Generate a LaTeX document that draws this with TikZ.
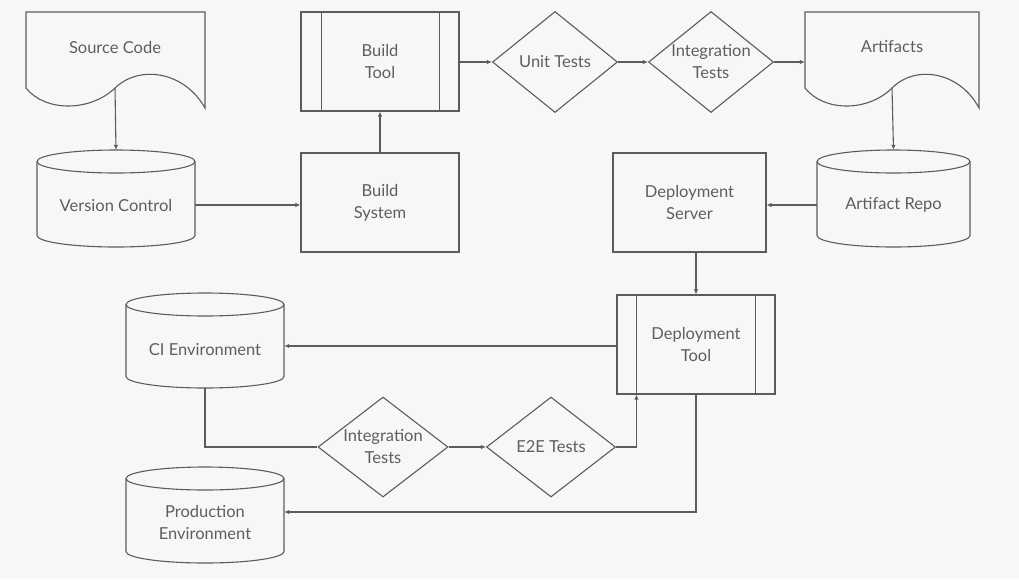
\documentclass[tikz,border=0pt]{standalone}
\usepackage{fontspec}
\setmainfont{Lato}
\usetikzlibrary{shapes.geometric,arrows.meta,calc}
\definecolor{ink}{HTML}{5C5C5C}
\definecolor{txt}{HTML}{5E5E5E}
\definecolor{paper}{HTML}{F7F7F9}
\begin{document}
\begin{tikzpicture}[x=1pt,y=-1pt,
  line/.style={draw=ink, line width=1.1pt},
  arr/.style={line, -{Latex[length=5pt,width=4.5pt]}},
  lbl/.style={font=\fontsize{16.5}{22}\selectfont, text=txt, align=center, inner sep=0},
  area/.style={rectangle, inner sep=0, minimum width=#1},
  box/.style={line, rectangle, inner sep=0, minimum height=99, font=\fontsize{16.5}{22}\selectfont, text=txt, align=center},
  dia/.style={line, diamond, inner sep=0, aspect=1.25, font=\fontsize{16.5}{22}\selectfont, text=txt, align=center}]
\useasboundingbox (0,0) rectangle (1019,579);
\fill[paper] (0,0) rectangle (1019,579);

% ---------- documents ----------
\draw[line] (26,88) -- (26,12) -- (205,12) -- (205,108)
  .. controls (185,72) and (140,64) .. (115,88)
  .. controls (90,112) and (45,112) .. cycle;
\node[area=179, minimum height=96] (srcd) at (115.5,60) {};
\node[lbl] (src) at (115,47) {Source Code};
\coordinate (srcw) at (115,88);

\draw[line] (805,88) -- (805,12) -- (979,12) -- (979,108)
  .. controls (960,72) and (916,64) .. (892,88)
  .. controls (868,112) and (824,112) .. cycle;
\node[area=174, minimum height=96] (artd) at (892,60) {};
\node[lbl] (art) at (892,47) {Artifacts};
\coordinate (artw) at (892,88);

% ---------- cylinders ----------
% Version Control
\draw[line] (37,161.5) -- (37,235.5) arc[start angle=180, end angle=0, x radius=79, y radius=11.5] -- (195,161.5);
\draw[line] (116,161.5) ellipse[x radius=79, y radius=11.5];
\node[area=158, minimum height=97] (vc) at (116,198.5) {};
\node[lbl] (vct) at (116,205) {Version Control};

% Artifact Repo
\draw[line] (817,161.5) -- (817,235.5) arc[start angle=180, end angle=0, x radius=76.5, y radius=11.5] -- (970,161.5);
\draw[line] (893.5,161.5) ellipse[x radius=76.5, y radius=11.5];
\node[area=153, minimum height=97] (ar) at (893.5,198.5) {};
\node[lbl] (art2) at (893.5,205) {Artifact Repo};

% CI Environment
\draw[line] (126,304.5) -- (126,376.5) arc[start angle=180, end angle=0, x radius=79, y radius=11.5] -- (284,304.5);
\draw[line] (205,304.5) ellipse[x radius=79, y radius=11.5];
\node[area=158, minimum height=95] (ci) at (205,340.5) {};
\node[lbl] (cit) at (205,350) {CI Environment};

% Production Environment
\draw[line] (126,478.5) -- (126,551.5) arc[start angle=180, end angle=0, x radius=79, y radius=11.5] -- (284,478.5);
\draw[line] (205,478.5) ellipse[x radius=79, y radius=11.5];
\node[area=158, minimum height=96] (pe) at (205,515) {};
\node[lbl] (pet) at (205,522) {Production\\Environment};

% ---------- boxes ----------
\node[box, minimum width=158] (bt) at (380,61.5) {Build\\Tool};
\draw[line] ([xshift=21pt]bt.north west) -- ([xshift=21pt]bt.south west);
\draw[line] ([xshift=-20pt]bt.north east) -- ([xshift=-20pt]bt.south east);

\node[box, minimum width=158] (bs) at (380,202.5) {Build\\System};
\node[box, minimum width=153] (ds) at (689.5,202.5) {Deployment\\Server};

\node[box, minimum width=158] (dt) at (696,344.5) {Deployment\\Tool};
\draw[line] ([xshift=20pt]dt.north west) -- ([xshift=20pt]dt.south west);
\draw[line] ([xshift=-20pt]dt.north east) -- ([xshift=-20pt]dt.south east);
\coordinate (dtin) at ([xshift=20pt]dt.south west);

% ---------- decisions ----------
\node[dia, minimum width=125, minimum height=101] (ut) at (555,62) {Unit Tests};
\node[dia, minimum width=125, minimum height=101] (it1) at (711,62) {Integration\\Tests};
\node[dia, minimum width=130, minimum height=100] (it2) at (383,447) {Integration\\Tests};
\node[dia, minimum width=129, minimum height=100] (e2e) at (551,447) {E2E Tests};

% ---------- connectors ----------
\draw[arr] (srcw) -- (vc.north);
\draw[arr] (vct -| vc.east) -- (vct -| bs.west);
\draw[arr] (bs.north) -- (bt.south);
\draw[arr] (bt.east |- ut) -- (ut.west);
\draw[arr] (ut.east) -- (it1.west);
\draw[arr] (it1.east) -- (it1 -| artd.west);
\draw[arr] (artw) -- (ar.north);
\draw[arr] (art2 -| ar.west) -- (art2 -| ds.east);
\draw[arr] (ds.south -| dt.north) -- (dt.north);
\draw[arr] ([yshift=-1.5pt]dt.west) -- ([yshift=-1.5pt]dt.west -| ci.east);
\draw[line] (ci.south) |- (it2.west);
\draw[arr] (it2.east) -- (e2e.west);
\draw[arr] (e2e.east) -| (dtin);
\draw[arr] (dt.south) |- ([yshift=3pt]pe.east);
\end{tikzpicture}
\end{document}
